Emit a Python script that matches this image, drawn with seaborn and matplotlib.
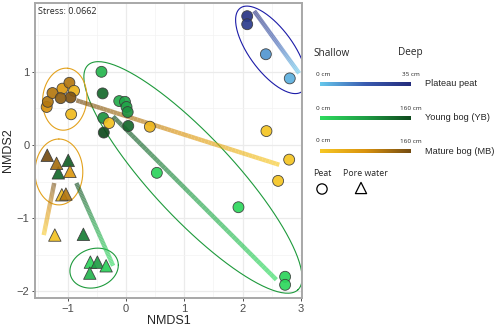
import numpy as np
import pandas as pd
import matplotlib
matplotlib.use("Agg")
import matplotlib.pyplot as plt
import seaborn as sns
from matplotlib.collections import LineCollection
from matplotlib.colors import LinearSegmentedColormap

# ---------------- data ----------------
# Plateau peat (peat samples)
pp_x = [2.08, 2.08, 2.40, 2.81]
pp_y = [1.76, 1.65, 1.24, 0.91]
pp_depth = [32, 29, 8, 4]

# Young bog peat
ybp_x = [-0.42, -0.40, -0.115, -0.017, 0.01, 0.03, -0.39, -0.38, 0.04, 0.53, 1.93, 2.73, 2.73]
ybp_y = [1.00, 0.705, 0.60, 0.59, 0.52, 0.45, 0.37, 0.17, 0.26, -0.38, -0.85, -1.80, -1.91]
ybp_depth = [50, 130, 60, 70, 70, 90, 90, 160, 130, 10, 5, 10, 5]

# Mature bog peat
mbp_x = [-1.36, -1.34, -1.26, -1.09, -0.97, -0.89, -0.95, -1.12, -0.94, -0.29, 0.41, 2.41, 2.80, 2.61]
mbp_y = [0.52, 0.59, 0.71, 0.77, 0.85, 0.74, 0.65, 0.64, 0.42, 0.30, 0.25, 0.19, -0.20, -0.49]
mbp_depth = [80, 110, 110, 70, 110, 30, 150, 140, 20, 10, 25, 5, 5, 5]

# Young bog pore water
ybw_x = [-0.99, -1.16, -0.73, -0.61, -0.49, -0.34, -0.62]
ybw_y = [-0.21, -0.38, -1.22, -1.60, -1.60, -1.65, -1.75]
ybw_depth = [140, 130, 110, 10, 80, 15, 50]

# Mature bog pore water
mbw_x = [-1.35, -1.19, -0.96, -1.10, -1.03, -1.22]
mbw_y = [-0.14, -0.25, -0.36, -0.68, -0.67, -1.23]
mbw_depth = [160, 120, 70, 20, 110, 10]

max_depth = {"PP": 35, "YB": 160, "MB": 160}

# depth trend arrows (deep end -> shallow end)
trend_site = ["PP", "YB", "MB", "YB", "MB"]
trend_x0 = [2.20, -0.22, -0.85, -0.85, -1.23]
trend_y0 = [1.83, 0.39, 0.61, -0.52, -0.52]
trend_x1 = [2.97, 2.58, 2.63, -0.22, -1.41]
trend_y1 = [0.98, -1.84, -0.27, -1.65, -1.23]

# group ellipses: centre and two semi-axis vectors (data units)
ell_site = ["PP", "YB", "MB", "MB", "YB"]
ell_cx = [2.49, 1.15, -1.05, -1.15, -0.546]
ell_cy = [1.30, -0.443, 0.626, -0.368, -1.682]
ell_ux = [0.53, 1.80, 0.05, 0.0, 0.415]
ell_uy = [-0.57, -1.535, 0.423, 0.45, 0.04]
ell_vx = [0.30, 0.514, 0.377, 0.41, 0.0]
ell_vy = [0.18, 0.382, -0.027, 0.0, 0.27]

stress = 0.0662

# ---------------- styles ----------------
cmaps = {
    "PP": LinearSegmentedColormap.from_list("pp", ["#66C8EC", "#3A5BB0", "#242C7C"]),
    "YB": LinearSegmentedColormap.from_list("yb", ["#2EDB5E", "#1F9E45", "#0F4A1D"]),
    "MB": LinearSegmentedColormap.from_list("mb", ["#F7C824", "#D9920E", "#744C12"]),
}
ell_colors = {"PP": "#1C1CA8", "YB": "#1E9A3C", "MB": "#E3A21E"}

rows = []
for site, kind, xs, ys, ds in [
    ("PP", "Peat", pp_x, pp_y, pp_depth),
    ("YB", "Peat", ybp_x, ybp_y, ybp_depth),
    ("MB", "Peat", mbp_x, mbp_y, mbp_depth),
    ("YB", "Pore water", ybw_x, ybw_y, ybw_depth),
    ("MB", "Pore water", mbw_x, mbw_y, mbw_depth),
]:
    for x, y, d in zip(xs, ys, ds):
        rows.append(dict(site=site, kind=kind, NMDS1=x, NMDS2=y, depth=d))
df = pd.DataFrame(rows)
df["pid"] = [f"p{i}" for i in range(len(df))]
palette = {r.pid: cmaps[r.site](r.depth / max_depth[r.site]) for r in df.itertuples()}

sns.set_style("white")
plt.rcParams["font.family"] = ["Liberation Sans", "DejaVu Sans"]

fig = plt.figure(figsize=(5.0, 3.28), dpi=100)
ax = fig.add_axes([35 / 500, 30 / 328, 267 / 500, 295 / 328])
ax.set_xlim(-1.56, 3.02)
ax.set_ylim(-2.09, 1.94)

# grid
ax.set_xticks([-1, 0, 1, 2, 3])
ax.set_yticks([-2, -1, 0, 1])
ax.set_xticks(np.arange(-1.5, 3.01, 1.0), minor=True)
ax.set_yticks(np.arange(-1.5, 1.6, 1.0), minor=True)
ax.grid(which="major", color="#EBEBEB", lw=0.9, zorder=0)
ax.grid(which="minor", color="#F3F3F3", lw=0.5, zorder=0)
ax.set_axisbelow(True)
for sp in ax.spines.values():
    sp.set_color("#A8A8A8")
    sp.set_linewidth(1.4)
ax.tick_params(which="major", length=2.5, width=0.6, color="#333333", labelsize=8,
               labelcolor="#4D4D4D", pad=1.5, direction="out", bottom=True, left=True)
ax.tick_params(which="minor", length=0)
ax.set_xticklabels(["\u22121", "0", "1", "2", "3"])
ax.set_yticklabels(["\u22122", "\u22121", "0", "1"])
ax.set_xlabel("NMDS1", fontsize=9, labelpad=1)
ax.set_ylabel("NMDS2", fontsize=9, labelpad=2)

# ellipses
t = np.linspace(0, 2 * np.pi, 200)
for s, cx, cy, ux, uy, vx, vy in zip(ell_site, ell_cx, ell_cy, ell_ux, ell_uy, ell_vx, ell_vy):
    ex = cx + ux * np.cos(t) + vx * np.sin(t)
    ey = cy + uy * np.cos(t) + vy * np.sin(t)
    ax.plot(ex, ey, color=ell_colors[s], lw=0.8, zorder=1)

# gradient trend lines
for s, x0, y0, x1, y1 in zip(trend_site, trend_x0, trend_y0, trend_x1, trend_y1):
    n = 60
    xs = np.linspace(x0, x1, n + 1)
    ys = np.linspace(y0, y1, n + 1)
    segs = np.stack([np.column_stack([xs[:-1], ys[:-1]]), np.column_stack([xs[1:], ys[1:]])], axis=1)
    cols = cmaps[s](np.linspace(1.0, 0.0, n))
    cols[:, 3] = 0.65
    lc = LineCollection(segs, colors=cols, linewidths=3.2, capstyle="butt", zorder=2)
    ax.add_collection(lc)

# points
peat = df[df.kind == "Peat"]
water = df[df.kind == "Pore water"]
sns.scatterplot(data=peat, x="NMDS1", y="NMDS2", hue="pid", palette=palette, marker="o",
                s=62, edgecolor="#3A3A3A", linewidth=0.6, alpha=0.92, legend=False, ax=ax, zorder=3)
sns.scatterplot(data=water, x="NMDS1", y="NMDS2", hue="pid", palette=palette, marker="^",
                s=80, edgecolor="#3A3A3A", linewidth=0.6, alpha=0.92, legend=False, ax=ax, zorder=3)

ax.text(0.012, 0.985, f"Stress: {stress}", transform=ax.transAxes, ha="left", va="top",
        fontsize=6.5, family=["Open Sans", "DejaVu Sans"])

# ---------------- custom legend (pixel coordinates) ----------------
lax = fig.add_axes([0, 0, 1, 1], facecolor="none")
lax.set_xlim(0, 500)
lax.set_ylim(328, 0)
lax.axis("off")
lf = ["Open Sans", "DejaVu Sans"]
af = ["Liberation Sans", "DejaVu Sans"]
lax.text(313, 53, "Shallow", fontsize=7.2, family=lf, va="center", ha="left")
lax.text(398, 53, "Deep", fontsize=7.2, family=lf, va="center", ha="left")

legend_sites = ["PP", "YB", "MB"]
legend_names = ["Plateau peat", "Young bog (YB)", "Mature bog (MB)"]
legend_max_label = ["35 cm", "160 cm", "160 cm"]
bar_y = [84, 118, 151]
grad = np.linspace(0, 1, 256)[None, :]
for s, name, mlab, by in zip(legend_sites, legend_names, legend_max_label, bar_y):
    lax.imshow(grad, cmap=cmaps[s], extent=(320, 411, by + 2, by - 2), aspect="auto", zorder=2)
    lax.text(323, by - 10, "0 cm", fontsize=4.6, family=lf, ha="center", va="center")
    lax.text(411, by - 9.5, mlab, fontsize=4.6, family=lf, ha="center", va="center")
    lax.text(425, by, name, fontsize=6.7, family=af, ha="left", va="center")
lax.set_xlim(0, 500)
lax.set_ylim(328, 0)

lax.text(313, 174, "Peat", fontsize=6.3, family=lf, ha="left", va="center")
lax.text(343, 174, "Pore water", fontsize=6.3, family=lf, ha="left", va="center")
lax.scatter([322], [189], s=55, marker="o", facecolor="none", edgecolor="black", linewidth=0.9)
lax.scatter([361], [188], s=65, marker="^", facecolor="none", edgecolor="black", linewidth=0.9)

fig.savefig("out.png", dpi=100)
